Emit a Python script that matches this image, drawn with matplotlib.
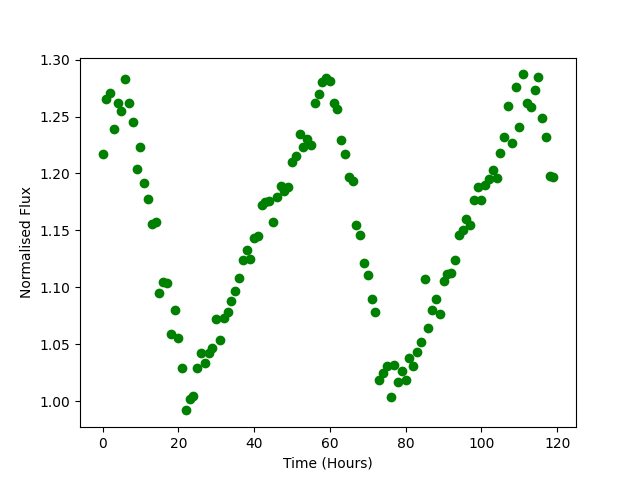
import matplotlib
matplotlib.use("Agg")
import matplotlib.pyplot as plt
import numpy as np

hours = list(range(120))
flux = [
    1.217, 1.265, 1.271, 1.239, 1.262, 1.255, 1.283, 1.262, 1.245, 1.204,
    1.223, 1.192, 1.178, 1.156, 1.157, 1.095, 1.105, 1.104, 1.059, 1.080,
    1.056, 1.029, 0.992, 1.002, 1.005, 1.029, 1.042, 1.034, 1.042, 1.047,
    1.072, 1.054, 1.073, 1.078, 1.088, 1.097, 1.108, 1.124, 1.133, 1.125,
    1.143, 1.145, 1.172, 1.175, 1.176, 1.157, 1.179, 1.189, 1.185, 1.188,
    1.210, 1.215, 1.235, 1.223, 1.230, 1.225, 1.262, 1.270, 1.280, 1.284,
    1.281, 1.262, 1.257, 1.229, 1.217, 1.197, 1.193, 1.155, 1.146, 1.121,
    1.111, 1.090, 1.078, 1.019, 1.025, 1.031, 1.004, 1.032, 1.017, 1.027,
    1.019, 1.038, 1.031, 1.043, 1.052, 1.107, 1.064, 1.080, 1.090, 1.077,
    1.106, 1.112, 1.113, 1.124, 1.146, 1.150, 1.160, 1.155, 1.177, 1.188,
    1.177, 1.190, 1.195, 1.203, 1.196, 1.218, 1.232, 1.259, 1.227, 1.276,
    1.241, 1.287, 1.262, 1.258, 1.273, 1.285, 1.249, 1.232, 1.198, 1.197,
]

fig, ax = plt.subplots(figsize=(6.4, 4.8), dpi=100)
ax.scatter(hours, flux, color="green")
ax.set_xlabel("Time (Hours)")
ax.set_ylabel("Normalised Flux")
fig.savefig("out.png")
